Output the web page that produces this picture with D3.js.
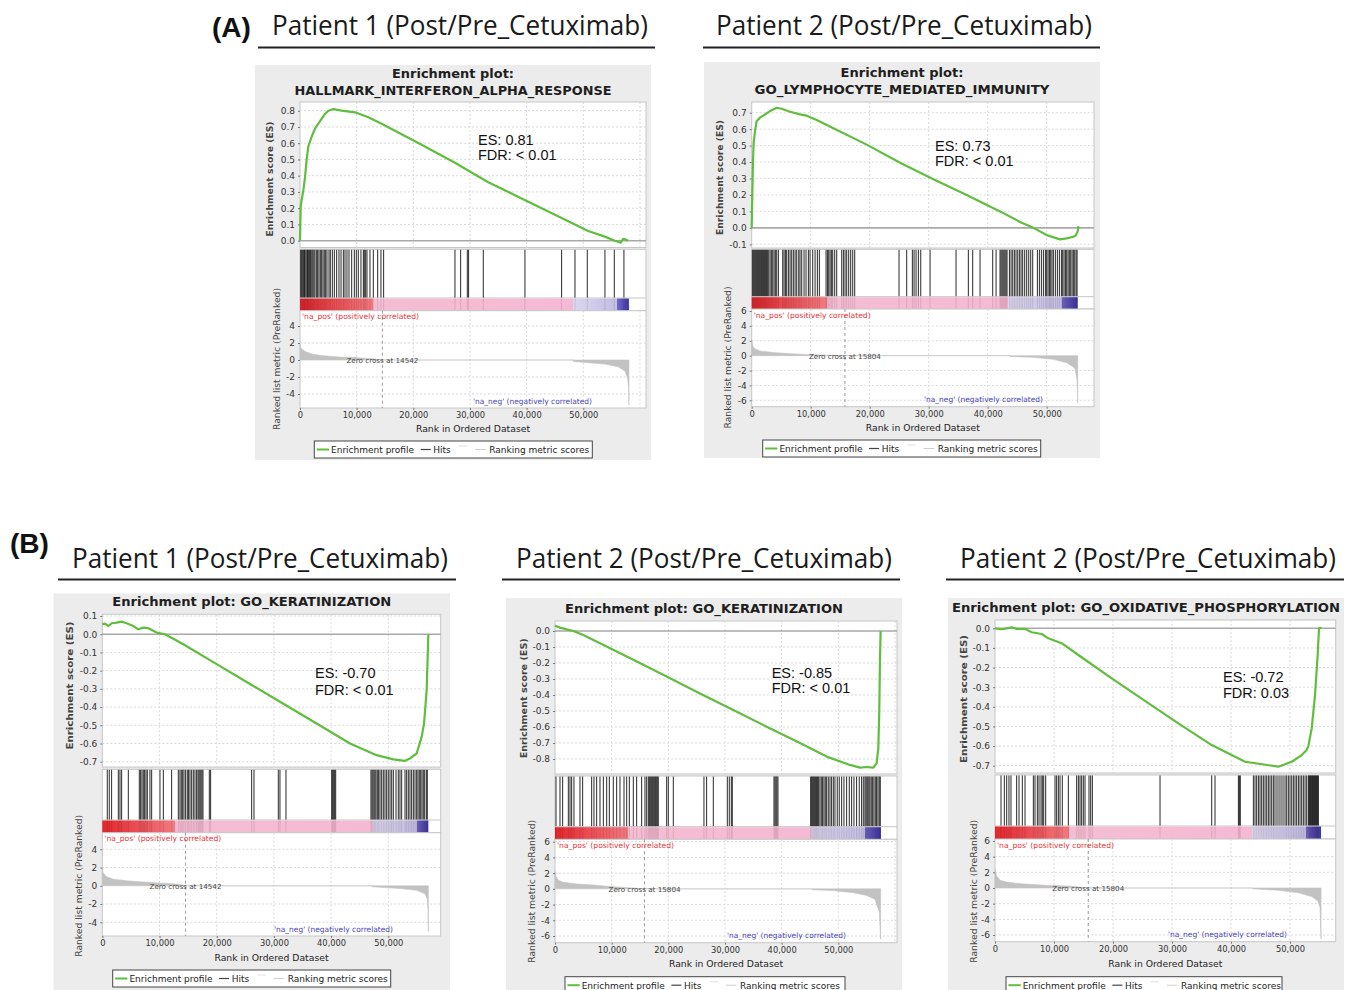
<!DOCTYPE html>
<html>
<head>
<meta charset="utf-8">
<script src="https://cdn.jsdelivr.net/npm/d3@7/dist/d3.min.js"></script>
<style>
  body { margin: 0; background: #fff; }
  svg { display: block; }
</style>
</head>
<body>
<script>
// GSEA enrichment plots, post vs pre cetuximab

// ---- headings ----
const headerLetters = ['(A)', '(B)'];
const headerTitles = [
  'Patient 1 (Post/Pre_Cetuximab)', 'Patient 2 (Post/Pre_Cetuximab)',
  'Patient 1 (Post/Pre_Cetuximab)', 'Patient 2 (Post/Pre_Cetuximab)', 'Patient 2 (Post/Pre_Cetuximab)'
];

// ---- A1: HALLMARK_INTERFERON_ALPHA_RESPONSE ----
const a1Es = [[0,0],[120,0.21],[290,0.25],[590,0.31],[880,0.39],[1180,0.5],[1470,0.58],[2060,0.64],[2650,0.69],
  [3230,0.72],[3820,0.75],[4410,0.78],[5000,0.8],[5880,0.81],[7350,0.8],[9700,0.79],[12060,0.76],[14400,0.72],
  [21460,0.59],[27340,0.48],[33220,0.36],[39100,0.26],[45000,0.16],[50860,0.06],[53800,0.025],[55570,0],
  [56620,-0.012],[57040,0.012],[57450,0.008],[57900,0]];
const a1Hits = [120,290,470,650,770,880,1060,1240,1350,1470,1650,1820,1940,2120,2290,2470,2650,2940,3120,3350,
  3590,3820,4060,4290,4530,4760,5120,5350,5710,6060,6470,6880,7240,7650,7940,8290,8650,9120,9590,9940,10290,
  10760,11180,11350,11590,11820,12350,12940,13710,14290,14760,27350,28350,29530,29760,32350,39700,46170,48530,
  50700,53820,55470,57170];
const a1Metric = [[0,1.9],[60,1.5],[300,1.3],[900,1.0],[2060,0.72],[3820,0.52],[6760,0.36],[9700,0.28],
  [12650,0.16],[14542,0],[48200,0],[48260,-0.18],[53800,-0.48],[56150,-0.8],[57350,-1.3],[57820,-2.1],
  [58000,-3.3],[58060,-5.3]];
const a1Bands = [12900, 48200, 56000, 58050];

// ---- A2: GO_LYMPHOCYTE_MEDIATED_IMMUNITY ----
const a2Es = [[0,0],[110,0.22],[230,0.42],[340,0.52],[570,0.59],[850,0.65],[1410,0.67],[2260,0.69],[3110,0.71],
  [4240,0.73],[5090,0.724],[6500,0.706],[8190,0.69],[9320,0.682],[11020,0.656],[13840,0.606],[19490,0.506],
  [25140,0.396],[30790,0.296],[36440,0.2],[42090,0.1],[45480,0.036],[47740,0],[50000,-0.044],[52260,-0.07],
  [53390,-0.064],[54520,-0.054],[54970,-0.044],[55260,-0.02],[55370,0.01]];
const a2Hits = [110,280,450,620,790,960,1130,1300,1470,1640,1810,1980,2150,2320,2490,2660,2880,3110,3330,3560,
  3790,4010,4240,4520,5260,5480,5710,5930,6220,6500,6780,7060,7350,7630,7970,8190,8480,8870,9210,9610,9890,
  10340,10740,11130,11470,12600,12830,13050,13280,13500,13730,14070,14410,15260,15540,15820,16100,16440,16780,
  17120,17460,24970,26270,27230,27520,27860,28250,28650,30230,34630,36720,37460,38700,40850,41420,42090,42260,
  42430,42600,42770,42940,43110,43280,43680,43960,44240,44520,44800,45090,45370,45650,45930,46270,46610,46950,
  47290,47630,48420,48760,49100,49440,49780,50000,50230,50460,50680,50900,51130,51470,51810,52150,52490,52710,
  52940,53170,53390,53620,53840,54070,54300,54520,54750,54980,55150];
const a2Metric = [[0,2.1],[170,1.3],[560,0.9],[1410,0.64],[3670,0.41],[6500,0.27],[9320,0.14],[15804,0],
  [43670,0],[43730,-0.1],[47740,-0.23],[51130,-0.5],[53390,-0.95],[54800,-1.7],[55150,-3.3],[55260,-6.3]];
const a2Bands = [12700, 43500, 52550, 55260];

// ---- B1: GO_KERATINIZATION (patient 1) ----
const b1Es = [[0,0.055],[470,0.058],[1050,0.045],[1630,0.06],[2500,0.064],[3380,0.069],[4250,0.06],[5420,0.045],
  [6290,0.027],[7170,0.036],[8040,0.033],[9500,0.009],[10960,0],[14160,-0.055],[19990,-0.164],[25820,-0.273],
  [31650,-0.382],[37470,-0.49],[43300,-0.6],[47960,-0.664],[50880,-0.687],[52920,-0.695],[53790,-0.682],
  [54960,-0.655],[55830,-0.564],[56250,-0.49],[56700,-0.31],[56880,-0.127],[57000,0]];
const b1Hits = [870,1220,1630,2800,3090,3380,4550,6470,6700,6940,7170,7400,7640,7870,8330,8630,10080,10670,
  12120,13290,13580,13810,14050,14280,14570,14860,15090,15330,15620,15910,16200,16490,16730,16900,17080,17250,
  17430,17600,18710,18940,26110,26520,30770,31060,32110,40100,40270,40450,40620,40800,46970,47150,47320,47500,
  47670,47850,48080,48310,48550,48840,49130,49420,49710,50000,50300,50590,50880,51350,51750,52040,52340,52920,
  53210,53500,53790,54080,54380,54670,54960,55190,55420,55660,55890,56120,56360,56650,56820];
const b1Metric = [[0,1.9],[175,1.4],[760,1.0],[1920,0.73],[4250,0.55],[8330,0.36],[12990,0.2],[14542,0],
  [47100,0],[47160,-0.1],[52030,-0.3],[54960,-0.5],[56420,-0.87],[56830,-1.5],[56950,-2.6],[57000,-5.0]];
const b1Bands = [12700, 47100, 54960, 57000];

// ---- B2: GO_KERATINIZATION (patient 2) ----
const b2Es = [[0,0.033],[880,0.021],[2060,0.01],[3240,0],[5000,-0.025],[7940,-0.077],[13820,-0.18],
  [19700,-0.285],[25590,-0.39],[31470,-0.494],[37350,-0.598],[43230,-0.7],[47940,-0.785],[52060,-0.837],
  [53820,-0.854],[55000,-0.85],[56170,-0.854],[56760,-0.827],[57060,-0.733],[57230,-0.504],[57350,-0.19],
  [57470,0]];
const b2Hits = [180,880,1350,2350,2650,2940,3350,4410,4880,6470,6880,7350,7940,8530,9120,9590,10290,10880,
  11470,12180,12650,13120,13820,14410,15290,15880,16180,16470,16650,16820,17000,17180,17350,17530,17710,17880,
  18060,18230,19710,20000,20880,26290,26760,27940,30410,30760,31120,31290,38650,38820,39000,39170,39350,45120,
  45290,45470,45650,45820,46000,46170,46350,46530,46760,47000,47230,47470,47700,47940,48230,48530,48820,49120,
  49410,49820,50170,50590,51000,51470,51940,52350,52760,53230,53700,54110,54410,54700,54880,55060,55230,55410,
  55590,55820,56060,56290,56530,56760,57000,57230,57410];
const b2Metric = [[0,2.2],[180,1.55],[590,1.1],[1470,0.84],[3820,0.62],[6760,0.49],[9700,0.31],[15804,0],
  [45300,0],[45360,-0.1],[49120,-0.22],[52650,-0.49],[55000,-0.84],[56470,-1.33],[57230,-2.9],[57470,-6.4]];
const b2Bands = [12940, 45100, 54700, 57530];

// ---- B3: GO_OXIDATIVE_PHOSPHORYLATION (patient 2) ----
const b3Es = [[0,0],[1130,-0.005],[1980,0],[2830,0.005],[3670,-0.003],[5090,-0.003],[6220,-0.02],[7910,-0.029],
  [9040,-0.051],[11300,-0.076],[14130,-0.136],[19780,-0.255],[25420,-0.37],[31080,-0.484],[36730,-0.595],
  [42380,-0.68],[48030,-0.705],[50290,-0.68],[51980,-0.646],[52830,-0.62],[53110,-0.6],[53680,-0.51],
  [54240,-0.34],[54690,-0.136],[54920,0],[55370,0.003]];
const b3Hits = [1020,1580,1980,2370,2710,3670,4070,4630,5090,6500,6780,7180,7460,7800,8020,8250,8590,10170,
  10450,10740,11020,11410,12430,13840,14130,14410,14690,14970,15260,15930,16220,16500,27970,36730,37290,41250,
  41420,41580,43790,44070,44350,44640,44920,45200,45480,45770,46050,46330,46610,46900,47180,47460,47800,48140,
  48480,48820,49160,49440,49720,50000,50290,50570,50850,51130,51420,51700,51980,52260,52550,52830,53110,53220,
  53340,53450,53560,53680,53790,53900,54010,54130,54240,54350,54470,54580,54690,54810];
const b3Metric = [[0,2.35],[280,1.55],[850,1.0],[1980,0.76],[4520,0.53],[8480,0.36],[13000,0.22],[15804,0],
  [43620,0],[43680,-0.1],[48030,-0.3],[51420,-0.62],[53680,-1.1],[54690,-1.64],[55090,-2.5],[55260,-6.5]];
const b3Bands = [12540, 43620, 52660, 55260];

// ---- axis ticks ----
const xTicks = [0, 10000, 20000, 30000, 40000, 50000];
const esTicksA1 = [0, 0.1, 0.2, 0.3, 0.4, 0.5, 0.6, 0.7, 0.8];
const esTicksA2 = [-0.1, 0, 0.1, 0.2, 0.3, 0.4, 0.5, 0.6, 0.7];
const esTicksB1 = [0.1, 0, -0.1, -0.2, -0.3, -0.4, -0.5, -0.6, -0.7];
const esTicksB2 = [0, -0.1, -0.2, -0.3, -0.4, -0.5, -0.6, -0.7, -0.8];
const esTicksB3 = [0, -0.1, -0.2, -0.3, -0.4, -0.5, -0.6, -0.7];
const metTicks4 = [4, 2, 0, -2, -4];
const metTicks6 = [6, 4, 2, 0, -2, -4, -6];

// colours
const C = {
  card: '#ececec', frame: '#c6c6c6', grid: '#dadada', green: '#5fbe3e', zero: '#a9a9a9',
  metric: '#c2c2c2', red: '#e8353b', blue: '#4a44b6',
  bar: ['#e2262d', '#f27a80', '#f5bdd4', '#f4bad3', '#dbd7ef', '#c2bde4', '#7069c6', '#3a33a3']
};

const panels = [
  { title: ['Enrichment plot:', 'HALLMARK_INTERFERON_ALPHA_RESPONSE'], stats: ['ES: 0.81', 'FDR: < 0.01'],
    zeroCross: 14542, es: a1Es, hits: a1Hits, metric: a1Metric, bands: a1Bands, esTicks: esTicksA1, metTicks: metTicks4,
    L: { card: [255, 65, 396, 395], left: 300, right: 646, x0: 300, x50: 583.3,
      esTop: 102, esBottom: 247.5, esAnchors: [[0.8, 110.7], [0, 240.7]],
      hitsTop: 249.3, barTop: 298, barBottom: 310.7, metBottom: 408, metAnchors: [[4, 326], [-4, 394]],
      titleY: [78, 95], titleW: [122, 317], xLabelY: 432,
      esLabel: [270, 179, 115], metLabel: [277, 359, 142], statsX: 478, statsY: [145, 160], naNegX: 592,
      legend: [314.3, 441, 278, 17] } },
  { title: ['Enrichment plot:', 'GO_LYMPHOCYTE_MEDIATED_IMMUNITY'], stats: ['ES: 0.73', 'FDR: < 0.01'],
    zeroCross: 15804, es: a2Es, hits: a2Hits, metric: a2Metric, bands: a2Bands, esTicks: esTicksA2, metTicks: metTicks6,
    L: { card: [704, 62, 396, 396], left: 751.7, right: 1094, x0: 751.7, x50: 1046.7,
      esTop: 102, esBottom: 248, esAnchors: [[0.7, 112.7], [-0.1, 244.3]],
      hitsTop: 249.3, barTop: 296.7, barBottom: 309, metBottom: 406.7, metAnchors: [[6, 311], [-6, 400.3]],
      titleY: [76.5, 93.5], titleW: [123, 295], xLabelY: 431,
      esLabel: [720, 177.5, 115], metLabel: [728, 357.5, 142], statsX: 935, statsY: [151, 166], naNegX: 1043,
      legend: [762.7, 440, 278, 17] } },
  { title: ['Enrichment plot: GO_KERATINIZATION'], stats: ['ES: -0.70', 'FDR: < 0.01'],
    zeroCross: 14542, es: b1Es, hits: b1Hits, metric: b1Metric, bands: b1Bands, esTicks: esTicksB1, metTicks: metTicks4,
    L: { card: [53.5, 593.5, 396.5, 396.5], left: 102.3, right: 440.7, x0: 102.3, x50: 388.3,
      esTop: 614.3, esBottom: 767, esAnchors: [[0.1, 616], [-0.7, 761.7]],
      hitsTop: 769.3, barTop: 820, barBottom: 832.7, metBottom: 936, metAnchors: [[4, 849.3], [-4, 922.3]],
      titleY: [605.5], titleW: [279], xLabelY: 961,
      esLabel: [70, 685.5, 128], metLabel: [78.3, 885.8, 142], statsX: 315, statsY: [678, 695], naNegX: 393,
      legend: [112.7, 970, 278, 17] } },
  { title: ['Enrichment plot: GO_KERATINIZATION'], stats: ['ES: -0.85', 'FDR: < 0.01'],
    zeroCross: 15804, es: b2Es, hits: b2Hits, metric: b2Metric, bands: b2Bands, esTicks: esTicksB2, metTicks: metTicks6,
    L: { card: [506, 598, 396, 392], left: 555, right: 897, x0: 555, x50: 838.3,
      esTop: 621, esBottom: 774, esAnchors: [[0, 631], [-0.8, 759]],
      hitsTop: 776, barTop: 826.7, barBottom: 839.3, metBottom: 942.7, metAnchors: [[6, 841.7], [-6, 936]],
      titleY: [612.5], titleW: [278], xLabelY: 967,
      esLabel: [523.5, 698.3, 120], metLabel: [531.7, 891.3, 143], statsX: 771.7, statsY: [678, 693], naNegX: 846,
      legend: [565, 976.7, 280, 17] } },
  { title: ['Enrichment plot: GO_OXIDATIVE_PHOSPHORYLATION'], stats: ['ES: -0.72', 'FDR: 0.03'],
    zeroCross: 15804, es: b3Es, hits: b3Hits, metric: b3Metric, bands: b3Bands, esTicks: esTicksB3, metTicks: metTicks6,
    L: { card: [948, 598, 396, 392], left: 995, right: 1335.7, x0: 995, x50: 1290,
      esTop: 620, esBottom: 773, esAnchors: [[0, 628.3], [-0.7, 765.7]],
      hitsTop: 775, barTop: 826, barBottom: 839, metBottom: 941.7, metAnchors: [[6, 841], [-6, 935]],
      titleY: [611.5], titleW: [388], xLabelY: 967,
      esLabel: [963.3, 699, 128], metLabel: [973.3, 891.3, 143], statsX: 1223, statsY: [682, 698], naNegX: 1287,
      legend: [1006, 976.7, 276, 17] } }
];

const headerPos = [
  { x: 272, y: 35, x1: 258, x2: 655, ly: 47.5 },
  { x: 716, y: 35, x1: 703, x2: 1100, ly: 47.5 },
  { x: 72, y: 568, x1: 58, x2: 456, ly: 579.5 },
  { x: 516, y: 568, x1: 502, x2: 900, ly: 579.5 },
  { x: 960, y: 568, x1: 946, x2: 1344, ly: 579.5 }
];
const letterPos = [[212, 37], [10, 553]];

const svg = d3.select('body').append('svg')
  .attr('width', 1347)
  .attr('height', 990);
const defs = svg.append('defs');

// scale whose domain follows two known (value, pixel) anchors
function scaleFrom(anchors, range) {
  const [[v1, p1], [v2, p2]] = anchors;
  const k = (p2 - p1) / (v2 - v1);
  return d3.scaleLinear()
    .domain([v1 + (range[0] - p1) / k, v1 + (range[1] - p1) / k])
    .range(range);
}

function fit(sel, len) {
  return sel.attr('textLength', len).attr('lengthAdjust', 'spacingAndGlyphs');
}

function styleAxis(a, size) {
  a.select('.domain').remove();
  a.selectAll('line').attr('stroke', '#777');
  a.selectAll('text').attr('font-family', 'DejaVu Sans').attr('font-size', size).attr('fill', '#333');
}

function drawPanel(p, i) {
  const L = p.L;
  const g = svg.append('g').attr('class', 'panel');
  const x = scaleFrom([[0, L.x0], [50000, L.x50]], [L.left, L.right]);
  const yEs = scaleFrom(L.esAnchors, [L.esBottom, L.esTop]);
  const yMet = scaleFrom(L.metAnchors, [L.metBottom, L.barBottom]);
  const w = L.right - L.left;
  const xGrid = d3.range(10000, x.domain()[1], 10000);

  g.append('rect')
    .attr('x', L.card[0]).attr('y', L.card[1])
    .attr('width', L.card[2]).attr('height', L.card[3])
    .attr('fill', C.card);

  // title
  p.title.forEach((t, j) => {
    fit(g.append('text')
      .attr('x', L.card[0] + L.card[2] / 2).attr('y', L.titleY[j])
      .attr('text-anchor', 'middle')
      .attr('font-family', 'DejaVu Sans').attr('font-weight', 'bold').attr('font-size', 12.5)
      .attr('fill', '#1e1e1e')
      .text(t), L.titleW[j]);
  });

  // --- ES panel ---
  g.append('rect')
    .attr('x', L.left).attr('y', L.esTop)
    .attr('width', w).attr('height', L.esBottom - L.esTop)
    .attr('fill', '#fff').attr('stroke', C.frame);
  g.selectAll('line.esh').data(p.esTicks.filter(d => d !== 0)).join('line')
    .attr('class', 'esh')
    .attr('x1', L.left).attr('x2', L.right)
    .attr('y1', d => yEs(d)).attr('y2', d => yEs(d))
    .attr('stroke', C.grid).attr('stroke-dasharray', '2,2');
  g.selectAll('line.esv').data(xGrid).join('line')
    .attr('class', 'esv')
    .attr('x1', d => x(d)).attr('x2', d => x(d))
    .attr('y1', L.esTop).attr('y2', L.esBottom)
    .attr('stroke', C.grid).attr('stroke-dasharray', '2,2');
  g.append('line')
    .attr('x1', L.left).attr('x2', L.right)
    .attr('y1', yEs(0)).attr('y2', yEs(0))
    .attr('stroke', C.zero).attr('stroke-width', 1.6);
  g.append('path')
    .datum(p.es)
    .attr('d', d3.line().x(d => x(d[0])).y(d => yEs(d[1])))
    .attr('fill', 'none').attr('stroke', C.green).attr('stroke-width', 2.2)
    .attr('stroke-linejoin', 'round');
  g.append('g')
    .attr('transform', `translate(${L.left},0)`)
    .call(d3.axisLeft(yEs).tickValues(p.esTicks).tickFormat(d => d.toFixed(1)).tickSize(2).tickPadding(3))
    .call(a => styleAxis(a, 9));
  fit(g.append('text')
    .attr('transform', `translate(${L.esLabel[0]},${L.esLabel[1]}) rotate(-90)`)
    .attr('text-anchor', 'middle').attr('dy', '0.35em')
    .attr('font-family', 'DejaVu Sans').attr('font-weight', 'bold').attr('font-size', 9.2)
    .attr('fill', '#444')
    .text('Enrichment score (ES)'), L.esLabel[2]);

  p.stats.forEach((s, j) => {
    g.append('text')
      .attr('x', L.statsX).attr('y', L.statsY[j])
      .attr('font-family', 'Liberation Sans, Arial, sans-serif').attr('font-size', 14.5)
      .attr('fill', '#111')
      .text(s);
  });

  // --- hits + ranking colour bar ---
  g.append('rect')
    .attr('x', L.left).attr('y', L.hitsTop)
    .attr('width', w).attr('height', L.barBottom - L.hitsTop)
    .attr('fill', '#fff').attr('stroke', C.frame);
  g.selectAll('line.hit').data(p.hits).join('line')
    .attr('class', 'hit')
    .attr('x1', d => x(d)).attr('x2', d => x(d))
    .attr('y1', L.hitsTop + 0.5).attr('y2', L.barTop)
    .attr('stroke', '#111').attr('stroke-width', 0.9);

  const b = p.bands.map(v => v / p.bands[3]);
  const gid = 'rankbar' + i;
  defs.append('linearGradient')
    .attr('id', gid).attr('gradientUnits', 'userSpaceOnUse')
    .attr('x1', x(0)).attr('x2', x(p.bands[3])).attr('y1', 0).attr('y2', 0)
    .selectAll('stop')
    .data([[0, C.bar[0]], [b[0], C.bar[1]], [b[0], C.bar[2]], [b[1], C.bar[3]],
           [b[1], C.bar[4]], [b[2], C.bar[5]], [b[2], C.bar[6]], [1, C.bar[7]]])
    .join('stop')
    .attr('offset', d => d[0]).attr('stop-color', d => d[1]);
  g.append('line')
    .attr('x1', L.left).attr('x2', L.right)
    .attr('y1', L.barTop).attr('y2', L.barTop)
    .attr('stroke', C.frame);
  g.append('rect')
    .attr('x', x(0)).attr('y', L.barTop + 0.5)
    .attr('width', x(p.bands[3]) - x(0)).attr('height', L.barBottom - L.barTop - 0.5)
    .attr('fill', `url(#${gid})`);
  g.selectAll('line.streak').data(p.hits).join('line')
    .attr('class', 'streak')
    .attr('x1', d => x(d)).attr('x2', d => x(d))
    .attr('y1', L.barTop + 0.5).attr('y2', L.barBottom)
    .attr('stroke', '#300').attr('stroke-opacity', 0.13).attr('stroke-width', 0.9);

  // --- ranked list metric ---
  g.append('rect')
    .attr('x', L.left).attr('y', L.barBottom)
    .attr('width', w).attr('height', L.metBottom - L.barBottom)
    .attr('fill', '#fff').attr('stroke', C.frame);
  g.selectAll('line.mh').data(p.metTicks.filter(d => d !== 0 && yMet(d) > L.barBottom + 2)).join('line')
    .attr('class', 'mh')
    .attr('x1', L.left).attr('x2', L.right)
    .attr('y1', d => yMet(d)).attr('y2', d => yMet(d))
    .attr('stroke', C.grid).attr('stroke-dasharray', '2,2');
  g.selectAll('line.mv').data(xGrid).join('line')
    .attr('class', 'mv')
    .attr('x1', d => x(d)).attr('x2', d => x(d))
    .attr('y1', L.barBottom).attr('y2', L.metBottom)
    .attr('stroke', C.grid).attr('stroke-dasharray', '2,2');
  g.append('path')
    .datum(p.metric)
    .attr('d', d3.area().x(d => x(d[0])).y0(yMet(0)).y1(d => yMet(d[1])))
    .attr('fill', C.metric).attr('stroke', C.metric).attr('stroke-width', 0.6);
  g.append('line')
    .attr('x1', x(p.zeroCross)).attr('x2', x(p.zeroCross))
    .attr('y1', L.barBottom).attr('y2', L.metBottom)
    .attr('stroke', '#9a9a9a').attr('stroke-dasharray', '3,3');
  fit(g.append('text')
    .attr('x', x(p.zeroCross)).attr('y', yMet(0) + 3)
    .attr('text-anchor', 'middle')
    .attr('font-family', 'DejaVu Sans').attr('font-size', 7)
    .attr('fill', '#444')
    .text('Zero cross at ' + p.zeroCross), 72);
  fit(g.append('text')
    .attr('x', L.left + 2).attr('y', L.barBottom + 8.5)
    .attr('font-family', 'DejaVu Sans').attr('font-size', 7.6)
    .attr('fill', C.red)
    .text("'na_pos' (positively correlated)"), 117);
  fit(g.append('text')
    .attr('x', L.naNegX).attr('y', L.metBottom - 4.5)
    .attr('text-anchor', 'end')
    .attr('font-family', 'DejaVu Sans').attr('font-size', 7.6)
    .attr('fill', C.blue)
    .text("'na_neg' (negatively correlated)"), 119);
  g.append('g')
    .attr('transform', `translate(${L.left},0)`)
    .call(d3.axisLeft(yMet).tickValues(p.metTicks).tickFormat(d => String(d)).tickSize(2).tickPadding(3))
    .call(a => styleAxis(a, 9));
  g.append('g')
    .attr('transform', `translate(0,${L.metBottom})`)
    .call(d3.axisBottom(x).tickValues(xTicks).tickFormat(d3.format(',')).tickSize(2).tickPadding(2))
    .call(a => styleAxis(a, 8.3));
  fit(g.append('text')
    .attr('x', (L.left + L.right) / 2).attr('y', L.xLabelY)
    .attr('text-anchor', 'middle')
    .attr('font-family', 'DejaVu Sans').attr('font-size', 9.4)
    .attr('fill', '#222')
    .text('Rank in Ordered Dataset'), 114);
  fit(g.append('text')
    .attr('transform', `translate(${L.metLabel[0]},${L.metLabel[1]}) rotate(-90)`)
    .attr('text-anchor', 'middle').attr('dy', '0.35em')
    .attr('font-family', 'DejaVu Sans').attr('font-size', 9.2)
    .attr('fill', '#444')
    .text('Ranked list metric (PreRanked)'), L.metLabel[2]);

  // --- legend ---
  const [lx, ly, lw, lh] = L.legend;
  const cy = ly + lh / 2;
  const leg = g.append('g');
  leg.append('rect')
    .attr('x', lx).attr('y', ly).attr('width', lw).attr('height', lh)
    .attr('fill', '#fff').attr('stroke', '#444');
  const legLines = [[2.4, 14.7, 0, C.green, 2], [106.4, 116.4, 0, '#444', 1.2],
                    [144.7, 153, -3.5, '#e0e0e0', 1], [160.7, 171.4, 0, '#cfcfcf', 1]];
  leg.selectAll('line').data(legLines).join('line')
    .attr('x1', d => lx + d[0]).attr('x2', d => lx + d[1])
    .attr('y1', d => cy + d[2]).attr('y2', d => cy + d[2])
    .attr('stroke', d => d[3]).attr('stroke-width', d => d[4]);
  leg.selectAll('text').data([[16.7, 'Enrichment profile'], [119, 'Hits'], [175, 'Ranking metric scores']]).join('text')
    .attr('x', d => lx + d[0]).attr('y', cy + 3.3)
    .attr('font-family', 'DejaVu Sans').attr('font-size', 9)
    .attr('fill', '#222')
    .text(d => d[1]);
}

panels.forEach(drawPanel);

// --- headings ---
headerLetters.forEach((t, i) => {
  svg.append('text')
    .attr('x', letterPos[i][0]).attr('y', letterPos[i][1])
    .attr('font-family', 'Liberation Sans, Arial, sans-serif').attr('font-weight', 'bold').attr('font-size', 28)
    .attr('fill', '#111')
    .text(t);
});
headerTitles.forEach((t, i) => {
  const h = headerPos[i];
  const txt = svg.append('text')
    .attr('font-family', 'Open Sans, sans-serif').attr('font-size', 28)
    .attr('fill', '#1a1a1a')
    .text(t);
  // squeeze to the width of the original heading
  const natural = txt.node().getComputedTextLength();
  txt.attr('transform', `translate(${h.x},${h.y}) scale(${376 / natural},1)`);
  svg.append('line')
    .attr('x1', h.x1).attr('x2', h.x2)
    .attr('y1', h.ly).attr('y2', h.ly)
    .attr('stroke', '#222').attr('stroke-width', 2);
});
</script>
</body>
</html>
